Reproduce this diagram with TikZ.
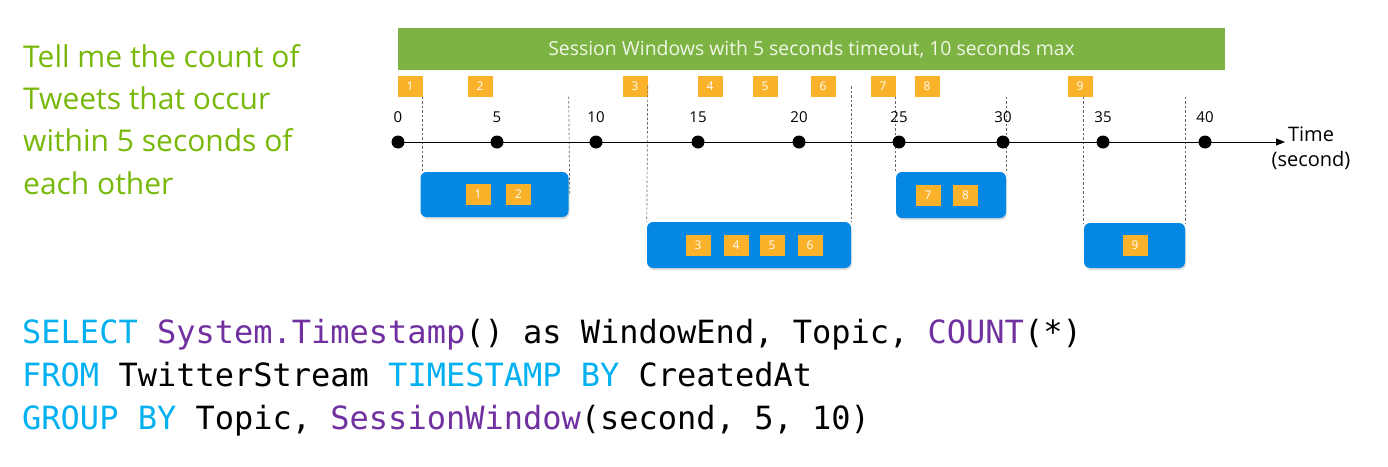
\documentclass[tikz,border=0pt]{standalone}
\usepackage{fontspec}
\setmainfont{Open Sans}
\setmonofont{DejaVu Sans Mono}
\definecolor{bannergreen}{RGB}{125,179,66}
\definecolor{evtorange}{RGB}{251,178,43}
\definecolor{winblue}{RGB}{4,136,227}
\definecolor{askgreen}{RGB}{120,184,10}
\definecolor{kwcyan}{RGB}{0,176,240}
\definecolor{kwpurple}{RGB}{112,48,160}
\usetikzlibrary{arrows.meta,positioning,shadows}

\begin{document}
\begin{tikzpicture}[x=1pt, y=-1pt,
  evt/.style={fill=evtorange, minimum width=25pt, minimum height=21pt, inner sep=0pt, text=white, font=\fontsize{12}{12}\selectfont},
  win/.style={fill=winblue, rounded corners=6pt, inner sep=0pt, drop shadow={opacity=0.25, shadow xshift=1pt, shadow yshift=-2pt}},
  tdot/.style={circle, fill=black, minimum size=13pt, inner sep=0pt},
  guide/.style={draw=black!60, line width=0.7pt, dash pattern=on 2.5pt off 2pt},
  sql/.style={anchor=base west, inner sep=0pt, font=\ttfamily\fontsize{32}{32}\selectfont}]
\useasboundingbox (0,0) rectangle (1388,466);

% question
\node[anchor=north west, align=left, inner sep=0pt, text=askgreen, font=\fontsize{30}{42.3}\selectfont] (ask) at (23,44)
  {Tell me the count of\\Tweets that occur\\within 5 seconds of\\each other};

% banner
\node[fill=bannergreen, minimum width=827pt, minimum height=42pt, inner sep=0pt, text=white!88!bannergreen, font=\fontsize{19.4}{19.4}\selectfont] (banner) at (811.5,49) {Session Windows with 5 seconds timeout, 10 seconds max};

% incoming events
\foreach \n/\x in {1/410,2/480,3/635,4/710,5/765,6/823,7/883,8/927,9/1080}
  \node[evt] (e\n) at (\x,86) {\n};

% windows
\node[win, minimum width=148pt, minimum height=45pt] (w1) at (494.5,194.5) {};
\node[win, minimum width=204pt, minimum height=46pt] (w2) at (749,245) {};
\node[win, minimum width=110pt, minimum height=46pt] (w3) at (951,195) {};
\node[win, minimum width=101pt, minimum height=45pt] (w4) at (1134.5,245.5) {};

% guides
\draw[guide] (e1.south east) -- (e1.south east |- w1.north);
\draw[guide] (w1.east |- e1.south) -- ([xshift=1pt]w1.east);
\draw[guide] (e3.east) -- (w2.north west);
\draw[guide] (w2.north east |- e6.east) -- (w2.north east);
\draw[guide] (w3.north west |- e7.south) -- (w3.north west);
\draw[guide] (w3.north east |- e9.south) -- (w3.north east);
\draw[guide] (w4.north west |- e9.south) -- (w4.north west);
\draw[guide] (w4.north east |- e9.south) -- (w4.north east);

% events inside windows
\node[evt] (w1a) at (478,194.5) {1};
\node[evt] (w1b) at (518.5,194.5) {2};
\node[evt] (w2a) at (698,245.5) {3};
\node[evt] (w2b) at (736,245.5) {4};
\node[evt] (w2c) at (772,245.5) {5};
\node[evt] (w2d) at (810,245.5) {6};
\node[evt] (w3a) at (928,195.5) {7};
\node[evt] (w3b) at (965.5,195.5) {8};
\node[evt] (w4a) at (1135,245.5) {9};

% time axis
\coordinate (tstart) at (398,142);
\coordinate (tend) at (1285,142);
\draw[line width=1pt, -{Triangle[length=9pt, width=7pt]}] (tstart) -- (tend);
\foreach \s/\x in {0/398,5/497,10/596,15/698,20/799,25/899,30/1003,35/1103,40/1205} {
  \node[tdot] (t\s) at (\x,142) {};
  \node[font=\fontsize{15}{15}\selectfont, above=9pt of t\s] {\s};
}
\node[align=center, inner sep=0pt, font=\fontsize{20}{25}\selectfont] (tlbl) at (1311,148) {Time\\(second)};

% query
\node[sql] (sql1) at (22,343) {\textcolor{kwcyan}{SELECT} \textcolor{kwpurple}{System.Timestamp}() as WindowEnd, Topic, \textcolor{kwpurple}{COUNT}(*)};
\node[sql] (sql2) at (22,386) {\textcolor{kwcyan}{FROM} TwitterStream \textcolor{kwcyan}{TIMESTAMP BY} CreatedAt};
\node[sql] (sql3) at (22,429) {\textcolor{kwcyan}{GROUP BY} Topic, \textcolor{kwpurple}{SessionWindow}(second, 5, 10)};
\end{tikzpicture}
\end{document}
